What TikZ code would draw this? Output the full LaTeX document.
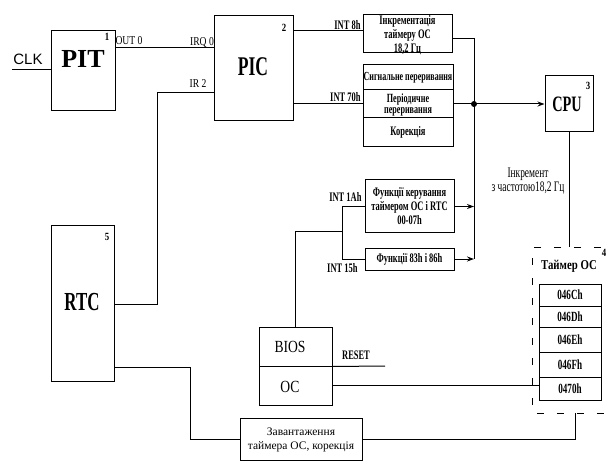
\documentclass[tikz,border=0pt]{standalone}
\usepackage{fontspec}
\setmainfont{Liberation Serif}
\newfontfamily\cnd[FakeStretch=0.8]{Liberation Serif}
\newfontfamily\cndd[FakeStretch=0.65]{Liberation Serif}
\newfontfamily\sansf{Liberation Sans}
\usetikzlibrary{arrows.meta}
\begin{document}
\begin{tikzpicture}[x=1pt,y=-1pt,line width=1pt,
  box/.style={draw,inner sep=0pt,minimum width=#1},
  arr/.style={-{Stealth[length=7pt,width=5pt]}},
  lbl/.style={inner sep=0pt,font=\cnd\fontsize{12}{12}\selectfont},
  blbl/.style={inner sep=0pt,font=\cndd\bfseries\fontsize{13}{13}\selectfont},
  num/.style={inner sep=0pt,font=\cnd\bfseries\fontsize{11}{11}\selectfont},
  big/.style={inner sep=0pt,font=\cndd\bfseries\fontsize{#1}{#1}\selectfont},
  small/.style={inner sep=0pt,align=center,font=\cndd\bfseries\fontsize{13}{14}\selectfont},
  reg/.style={font=\cndd\bfseries\fontsize{14}{14}\selectfont}]
\useasboundingbox (0,0) rectangle (607,462);
% main boxes
\node[box=64pt,minimum height=80pt] (pit) at (83,71) {};
\node[box=79pt,minimum height=105pt] (pic) at (253.5,68.5) {};
\node[box=63pt,minimum height=155pt] (rtc) at (82.5,303.5) {};
\node[box=48pt,minimum height=56pt] (cpu) at (569,104) {};
\node[box=89pt,minimum height=38pt] (inc) at (407.5,34) {};
\node[box=90pt,minimum height=25pt] (sig) at (408,77.5) {};
\node[box=90pt,minimum height=28pt] (per) at (408,104) {};
\node[box=90pt,minimum height=29pt] (kor) at (408,132.5) {};
\node[box=89pt,minimum height=53pt] (fn1) at (409.5,206.5) {};
\node[box=89pt,minimum height=22pt] (fn2) at (409.5,259) {};
\node[box=73pt,minimum height=39pt] (bios) at (295.5,346.5) {};
\node[box=73pt,minimum height=39pt] (os) at (295.5,385.5) {};
\node[box=122pt,minimum height=42pt] (zav) at (301,439) {};
\node[box=62pt,minimum height=22pt] (r1) at (570,295) {};
\node[box=62pt,minimum height=21pt] (r2) at (570,316.5) {};
\node[box=62pt,minimum height=25pt] (r3) at (570,339.5) {};
\node[box=62pt,minimum height=25pt] (r4) at (570,364.5) {};
\node[box=62pt,minimum height=23pt] (r5) at (570,388.5) {};
% texts in boxes
\node[inner sep=0pt,font=\bfseries\fontsize{26}{26}\selectfont] (pitt) at (83,59) {PIT};
\node[big=27] (pict) at (253,67) {PIC};
\node[big=26] (rtct) at (82,302) {RTC};
\node[big=22] (cput) at (567,104) {CPU};
\node[small] (inct) at (407.5,35) {Інкрементація\\таймеру ОС\\18,2 Гц};
\node[small,font=\cndd\bfseries\fontsize{12.3}{13}\selectfont] (sigt) at (408,78) {Сигнальне переривання};
\node[small,font=\cndd\bfseries\fontsize{12.5}{11.5}\selectfont] (pert) at (408,105) {Періодичне\\переривання};
\node[small] (kort) at (408,132) {Корекція};
\node[small] (fn1t) at (409.5,206) {Функції керування\\таймером ОС і RTC\\00-07h};
\node[small] (fn2t) at (409.5,259) {Функції 83h і 86h};
\node[inner sep=0pt,font=\cnd\fontsize{17}{17}\selectfont] (biost) at (290,347) {BIOS};
\node[inner sep=0pt,font=\cnd\fontsize{17}{17}\selectfont] (ost) at (290,387) {ОС};
\node[inner sep=0pt,align=center,font=\fontsize{11.5}{13.5}\selectfont] (zavt) at (301,440) {Завантаження\\таймера ОС, корекція};
\node[reg] at (r1) {046Ch};
\node[reg] at (r2) {046Dh};
\node[reg] at (r3) {046Eh};
\node[reg] at (r4) {046Fh};
\node[reg] at (r5) {0470h};
% numbers
\node[num] (n1) at (107,37) {1};
\node[num] (n2) at (284,28) {2};
\node[num] (n3) at (588,86) {3};
\node[num] (n4) at (604,253) {4};
\node[num] (n5) at (107,237) {5};
% labels
\node[inner sep=0pt,font=\sansf\fontsize{15}{15}\selectfont] (clkt) at (28,59) {CLK};
\node[lbl] (out0) at (129,41) {OUT 0};
\node[lbl] (irq0) at (202,42) {IRQ 0};
\node[lbl] (ir2) at (198,84) {IR 2};
\node[blbl,anchor=east] (int8) at (361,25) {INT 8h};
\node[blbl,anchor=east] (int70) at (361,97) {INT 70h};
\node[blbl,anchor=east] (int1a) at (362,197) {INT 1Ah};
\node[blbl,anchor=east] (int15) at (358,268) {INT 15h};
\node[blbl] (reset) at (356,355) {RESET};
\node[inner sep=0pt,align=center,font=\cndd\fontsize{14.5}{13.5}\selectfont] (incr) at (528,181) {Інкремент\\з частотою18,2 Гц};
\node[inner sep=0pt,font=\cnd\bfseries\fontsize{13.5}{14}\selectfont] (taim) at (569,266) {Таймер ОС};
% coordinates
\coordinate (clk) at (12,70);
\coordinate (o0) at (150,48);
\coordinate (i2) at (157,93);
\coordinate (rt) at (157,304);
\coordinate (rl) at (190,367);
\coordinate (i8) at (330,31);
\coordinate (bt) at (474,39);
\coordinate (bj) at (474,104);
\coordinate (b1) at (474,206.5);
\coordinate (bb) at (474,259);
\coordinate (t1) at (342,206.5);
\coordinate (t2) at (342,259);
\coordinate (t3) at (342,232);
\coordinate (rs) at (385,366);
\coordinate (ttop) at (569,247);
\coordinate (tbot) at (575,413);
\coordinate (dtr) at (601,247);
\coordinate (dtl) at (532,247);
\coordinate (dbl) at (532,413);
\coordinate (dbr) at (607,413);
% connectors
\draw (clk) -- (clk -| pit.west);
\draw (o0 -| pit.east) -- (o0 -| pic.west);
\draw (rt -| rtc.east) -- (rt) -- (i2) -- (i2 -| pic.west);
\draw (rl -| rtc.east) -- (rl) |- (zav.west);
\draw (zav.east) -| (tbot);
\draw (i8 -| pic.east) -- (i8 -| inc.west);
\draw (bj -| pic.east) -- (per.west);
\draw (bt -| inc.east) -- (bt) -- (bb);
\draw[arr] (per.east) -- (cpu.west);
\fill (bj) circle (3pt);
\draw[arr] (fn1.east) -- (b1);
\draw[arr] (fn2.east) -- (bb);
\draw (fn1.west) -- (t1) -- (t2) -- (fn2.west);
\draw (bios.north) |- (t3);
\draw (bios.south east) -- (rs);
\draw (os.east) -- (os.east -| r5.west);
\draw (cpu.south) -- (ttop);
\draw[dash pattern=on 7pt off 13pt] (dtr) -- (dtl) -- (dbl) -- (dbr);
\end{tikzpicture}
\end{document}
